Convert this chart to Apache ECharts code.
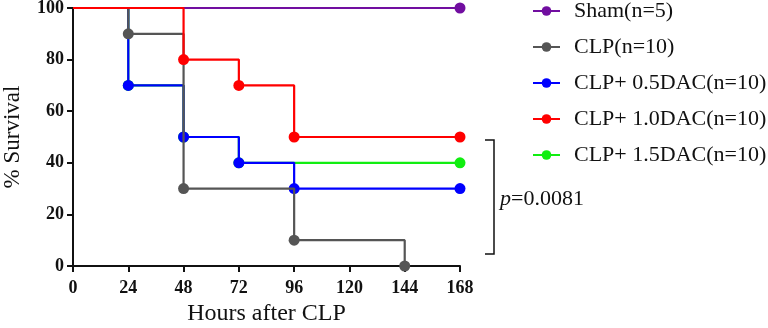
<!DOCTYPE html>
<html>
<head>
<meta charset="utf-8">
<script src="https://cdn.jsdelivr.net/npm/echarts@6/dist/echarts.min.js"></script>
<style>
  html, body { margin: 0; padding: 0; background: #fff; }
  #chart { width: 768px; height: 328px; }
</style>
</head>
<body>
<div id="chart"></div>
<script>
  // survival data
  const seriesNames = ['Sham(n=5)', 'CLP(n=10)', 'CLP+ 0.5DAC(n=10)', 'CLP+ 1.0DAC(n=10)', 'CLP+ 1.5DAC(n=10)'];
  const shamHours = [0, 168];
  const shamSurvival = [100, 100];
  const clpHours = [0, 24, 48, 96, 144];
  const clpSurvival = [100, 90, 30, 10, 0];
  const dac05Hours = [0, 24, 48, 72, 96, 168];
  const dac05Survival = [100, 70, 50, 40, 30, 30];
  const dac10Hours = [0, 48, 72, 96, 168];
  const dac10Survival = [100, 80, 70, 50, 50];
  const dac15Hours = [0, 24, 48, 72, 168];
  const dac15Survival = [100, 70, 50, 40, 40];
  const xTicks = [0, 24, 48, 72, 96, 120, 144, 168];
  const yTicks = [0, 20, 40, 60, 80, 100];
  const pLabel = '0.0081';

  const colors = ['#710ea0', '#555555', '#0000ff', '#ff0000', '#11ee11'];
  const serif = '"Liberation Serif", "DejaVu Serif", serif';

  function pts(hours, vals) {
    // no marker at time 0, markers at every event
    return hours.map(function (h, i) {
      return { value: [h, vals[i]], symbol: h === 0 ? 'none' : 'circle' };
    });
  }

  function km(idx, hours, vals, z) {
    return {
      name: seriesNames[idx],
      type: 'line',
      step: 'end',
      data: pts(hours, vals),
      symbol: 'circle',
      symbolSize: 11,
      z: z,
      color: colors[idx],
      lineStyle: { width: 2.2, color: colors[idx] },
      itemStyle: { color: colors[idx] },
      animation: false
    };
  }

  const chart = echarts.init(document.getElementById('chart'));
  chart.setOption({
    backgroundColor: '#fff',
    grid: { left: 73, right: 308, top: 8, bottom: 62, containLabel: false, outerBoundsMode: 'none' },
    legend: {
      orient: 'vertical',
      left: 532,
      top: 0,
      padding: 0,
      itemWidth: 27,
      itemHeight: 12,
      itemGap: 14,
      data: seriesNames,
      textStyle: { fontFamily: serif, fontSize: 22, color: '#111', lineHeight: 22, padding: [0, 0, 0, 9] }
    },
    xAxis: {
      type: 'value',
      min: 0,
      max: 168,
      interval: 24,
      name: 'Hours after CLP',
      nameLocation: 'middle',
      nameGap: 35,
      nameTextStyle: { fontFamily: serif, fontSize: 24, color: '#111' },
      axisLine: { lineStyle: { color: '#111', width: 2 } },
      axisTick: { length: 6, lineStyle: { color: '#111', width: 2 } },
      axisLabel: {
        fontFamily: serif, fontSize: 18, fontWeight: 'bold', color: '#111', margin: 13,
        formatter: function (v) { return xTicks.indexOf(v) >= 0 ? String(v) : ''; }
      },
      splitLine: { show: false }
    },
    yAxis: {
      type: 'value',
      min: 0,
      max: 100,
      interval: 20,
      name: '% Survival',
      nameLocation: 'middle',
      nameGap: 49,
      nameTextStyle: { fontFamily: serif, fontSize: 23, color: '#111' },
      axisLine: { show: true, lineStyle: { color: '#111', width: 2 } },
      axisTick: { show: true, length: 6, lineStyle: { color: '#111', width: 2 } },
      axisLabel: {
        fontFamily: serif, fontSize: 18, fontWeight: 'bold', color: '#111', margin: 9,
        formatter: function (v) { return yTicks.indexOf(v) >= 0 ? String(v) : ''; }
      },
      splitLine: { show: false }
    },
    series: [
      km(0, shamHours, shamSurvival, 2),
      km(4, dac15Hours, dac15Survival, 3),
      km(2, dac05Hours, dac05Survival, 4),
      km(1, clpHours, clpSurvival, 5),
      km(3, dac10Hours, dac10Survival, 6)
    ],
    graphic: [
      {
        type: 'polyline',
        shape: { points: [[485, 140], [494, 140], [494, 254], [485, 254]] },
        style: { stroke: '#111', lineWidth: 1.5, fill: null }
      },
      {
        type: 'text',
        left: 500,
        top: 188,
        style: {
          text: '{i|p}=' + pLabel,
          fontFamily: serif,
          fontSize: 22,
          fill: '#111',
          rich: { i: { fontStyle: 'italic', fontFamily: serif, fontSize: 22 } }
        }
      }
    ]
  });
</script>
</body>
</html>
